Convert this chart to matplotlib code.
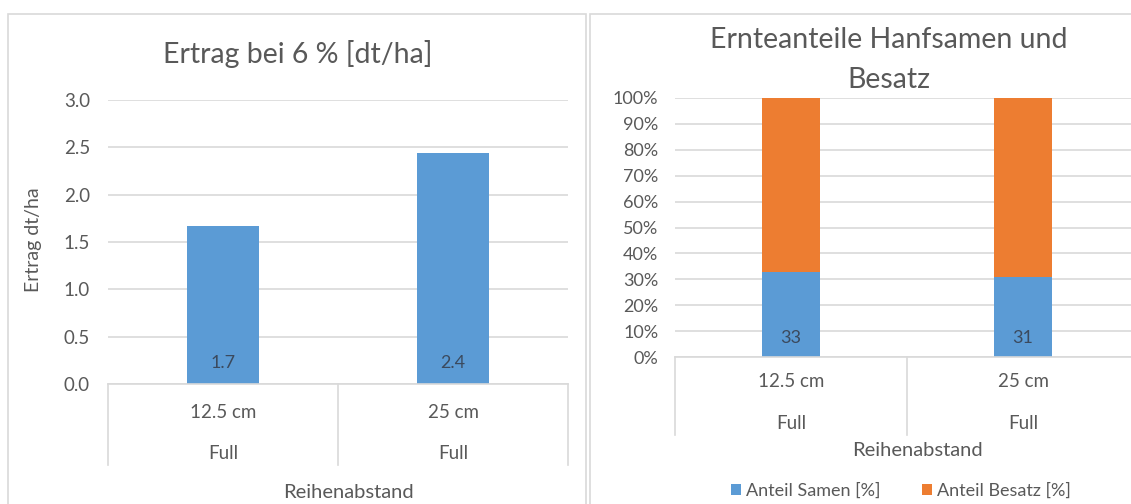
import numpy as np
import matplotlib.pyplot as plt
from matplotlib.patches import Rectangle
from matplotlib.transforms import blended_transform_factory

plt.rcParams['font.family'] = ['Lato', 'DejaVu Sans']

# Daten
kategorien = ["12.5 cm", "25 cm"]
gruppe = ["Full", "Full"]
ertrag = [1.67, 2.44]
anteil_samen = [33, 31]
anteil_besatz = [67, 69]

BLAU = "#5B9BD5"
ORANGE = "#ED7D31"
GRAU = "#595959"
LINIE = "#d9d9d9"
LABEL = "#3b4a5e"

W, H = 1131, 504
fig = plt.figure(figsize=(W / 100, H / 100), dpi=100)


def px(x0, y0, x1, y1):
    # Pixelkoordinaten -> Figurenanteile
    return [x0 / W, 1 - y1 / H, (x1 - x0) / W, (y1 - y0) / H]


def ftext(x, y, s, **kw):
    fig.text(x / W, 1 - y / H, s, color=GRAU, **kw)


# Rahmen der beiden Diagramme
for x0, x1 in [(8, 586), (590, 1140)]:
    fig.patches.append(Rectangle((x0 / W, -0.05), (x1 - x0) / W, 1 - 14 / H + 0.05,
                                 transform=fig.transFigure, fill=False,
                                 edgecolor=LINIE, lw=1.2))


def kategorie_achse(ax, tief, y_kat, y_grp):
    x = np.arange(len(kategorien))
    tr = blended_transform_factory(ax.transData, ax.transAxes)
    for xs in [-0.5, 0.5, 1.5]:
        ax.plot([xs, xs], [0, -tief], color=LINIE, lw=1.2,
                transform=tr, clip_on=False)
    for i in x:
        ax.text(i, y_kat, kategorien[i], transform=tr, ha="center",
                va="center", fontsize=13.5, color=GRAU)
        ax.text(i, y_grp, gruppe[i], transform=tr, ha="center",
                va="center", fontsize=13.5, color=GRAU)


def stil(ax):
    for s in ["top", "right", "left"]:
        ax.spines[s].set_visible(False)
    ax.spines["bottom"].set_color(LINIE)
    ax.spines["bottom"].set_linewidth(1.2)
    ax.grid(axis="y", color=LINIE, lw=1.2)
    ax.set_axisbelow(True)
    ax.tick_params(axis="y", length=0, pad=13, labelcolor=GRAU, labelsize=13.5)
    ax.tick_params(axis="x", length=0, labelbottom=False)
    ax.set_xlim(-0.5, 1.5)


x = np.arange(len(kategorien))

# Linkes Diagramm: Ertrag
ax1 = fig.add_axes(px(108, 100, 568, 384))
ax1.bar(x, ertrag, width=0.31, color=BLAU)
ax1.set_ylim(0, 3.0)
ax1.set_yticks(np.arange(0, 3.01, 0.5))
ax1.set_yticklabels([f"{v:.1f}" for v in np.arange(0, 3.01, 0.5)])
stil(ax1)
for i, v in enumerate(ertrag):
    ax1.annotate(f"{v:.1f}", (i, 0), xytext=(0, 15), textcoords="offset points",
                 ha="center", va="center", fontsize=13, color=LABEL)
ftext(33, 240, "Ertrag dt/ha", rotation=90, ha="center", va="center", fontsize=14)
ftext(298, 63, "Ertrag bei 6 % [dt/ha]", ha="center", va="baseline", fontsize=20.5)
kategorie_achse(ax1, 0.285, -0.102, -0.243)
ftext(348, 492, "Reihenabstand", ha="center", va="center", fontsize=14.5)

# Rechtes Diagramm: Ernteanteile
ax2 = fig.add_axes(px(675, 98, 1139, 357))
ax2.bar(x, anteil_samen, width=0.25, color=BLAU, label="Anteil Samen [%]")
ax2.bar(x, anteil_besatz, width=0.25, bottom=anteil_samen, color=ORANGE,
        label="Anteil Besatz [%]")
ax2.set_ylim(0, 100)
ax2.set_yticks(np.arange(0, 101, 10))
ax2.set_yticklabels([f"{v}%" for v in range(0, 101, 10)])
stil(ax2)
ax2.tick_params(axis="y", labelsize=13, pad=12)
for i, v in enumerate(anteil_samen):
    ax2.annotate(f"{v}", (i, 0), xytext=(0, 14), textcoords="offset points",
                 ha="center", va="center", fontsize=13, color=LABEL)
ftext(889, 48, "Ernteanteile Hanfsamen und", ha="center", va="baseline", fontsize=20.5)
ftext(889, 88, "Besatz", ha="center", va="baseline", fontsize=20.5)
kategorie_achse(ax2, 0.30, -0.0965, -0.255)
ftext(917, 450, "Reihenabstand", ha="center", va="center", fontsize=14.5)

ax2.legend(loc="center", bbox_to_anchor=(901 / W, 1 - 491 / H),
           bbox_transform=fig.transFigure, ncol=2, frameon=False,
           fontsize=13, labelcolor=GRAU, handlelength=0.55, handleheight=0.55,
           handletextpad=0.3, columnspacing=2.3)

fig.savefig("out.png", dpi=100)
